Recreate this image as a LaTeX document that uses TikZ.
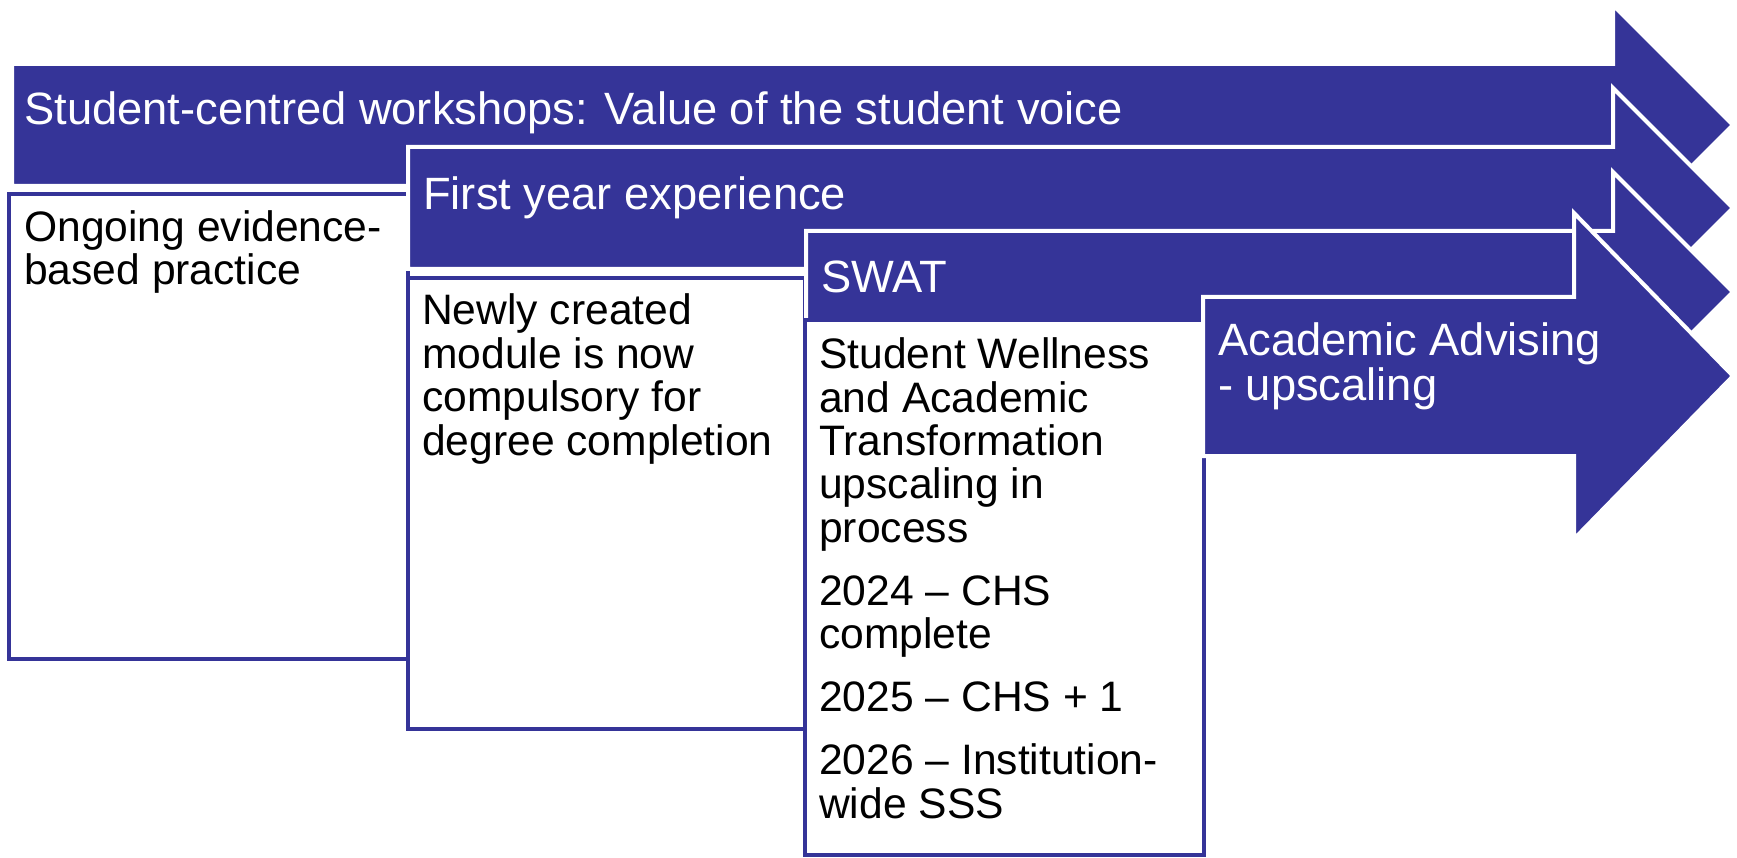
\documentclass[tikz,border=0pt]{standalone}
\usepackage{fontspec}
\setmainfont{Liberation Sans}
\definecolor{navy}{RGB}{53,52,152}
\begin{document}
\begin{tikzpicture}[x=1pt,y=-1pt,
  arrowshape/.style={fill=navy, draw=white, line width=4pt, line join=miter},
  panel/.style={fill=white, draw=navy, line width=4.5pt},
  hdr/.style={anchor=base west, inner sep=0pt, text=white, font=\fontsize{45.3}{45}\selectfont, align=left},
  bodytext/.style={anchor=base west, inner sep=0pt, text=black, font=\fontsize{42.6}{43.4}\selectfont, align=left}]
\useasboundingbox (0,0) rectangle (1737,858);
% arrow 1
\draw[arrowshape] (12,64) -- (1613,64) -- (1613,5) -- (1733,125) -- (1613,245) -- (1613,186) -- (12,186) -- cycle;
% box 1
\draw[panel] (9,194) rectangle (408,659);
% arrow 2
\draw[arrowshape] (408,147) -- (1613,147) -- (1613,88) -- (1733,208) -- (1613,328) -- (1613,269) -- (408,269) -- cycle;
% box 2
\draw[panel] (408,278) rectangle (805,729);
% arrow 3
\draw[arrowshape] (806,231) -- (1613,231) -- (1613,172) -- (1733,292) -- (1613,412) -- (1613,353) -- (806,353) -- cycle;
% box 3
\draw[panel] (805,320) rectangle (1204,855);
% arrow 4
\draw[arrowshape] (1203,297) -- (1574,297) -- (1574,213) -- (1733,376) -- (1574,539) -- (1574,456) -- (1203,456) -- cycle;
% texts (anchor = baseline of the last line)
\node[hdr] (t1) at (24,125) {Student-centred workshops: Value of the student voice};
\node[hdr] (t2) at (423,210) {First year experience};
\node[hdr] (t3) at (821,293) {SWAT};
\node[hdr] (t4) at (1218,400) {Academic Advising\\- upscaling};
\node[bodytext] (b1) at (24,285) {Ongoing evidence-\\based practice};
\node[bodytext] (b2) at (422,455) {Newly created\\module is now\\compulsory for\\degree completion};
\node[bodytext] (b3) at (819,818) {Student Wellness\\and Academic\\Transformation\\upscaling in\\process\\[19.6pt]2024 – CHS\\complete\\[19.6pt]2025 – CHS + 1\\[19.6pt]2026 – Institution-\\wide SSS};
\end{tikzpicture}
\end{document}
